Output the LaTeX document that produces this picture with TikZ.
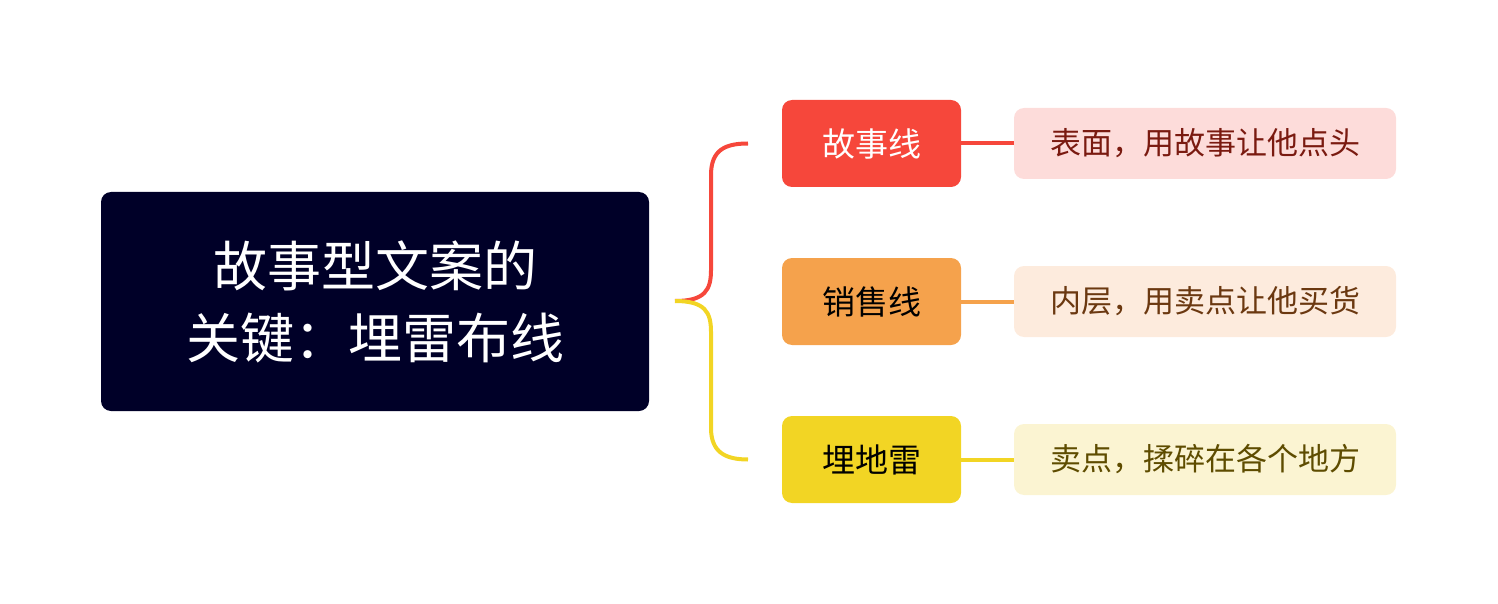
\documentclass[tikz,border=0pt]{standalone}
\usepackage{fontspec}
\newfontfamily\cjk{Noto Sans CJK SC}
\definecolor{rootc}{HTML}{000028}
\definecolor{redc}{HTML}{F6473B}
\definecolor{orac}{HTML}{F5A24C}
\definecolor{yelc}{HTML}{F2D524}
\definecolor{redl}{HTML}{FDDCDA}
\definecolor{oral}{HTML}{FDEBDD}
\definecolor{yell}{HTML}{FBF4D2}
\definecolor{redt}{HTML}{7A1A10}
\definecolor{orat}{HTML}{6B3810}
\definecolor{yelt}{HTML}{5E4C00}
\begin{document}
\begin{tikzpicture}[x=1pt,y=-1pt,
  box/.style={rounded corners=10pt,inner sep=0pt,font=\cjk},
  br/.style={box,minimum width=179pt,minimum height=87pt,font=\cjk\fontsize{33}{36}\selectfont},
  lf/.style={box,minimum width=382pt,minimum height=71pt,font=\cjk\fontsize{31}{34}\selectfont},
  con/.style={line width=4pt}]
\useasboundingbox (0,0) rectangle (1498,604);
\node[box,fill=rootc,text=white,minimum width=548pt,minimum height=219pt,align=center,font=\cjk\fontsize{54}{72}\selectfont] (root) at (375,301.5) {故事型文案的\\关键：埋雷布线};
\node[br,fill=redc,text=white] (b1) at (871.5,143.5) {故事线};
\node[br,fill=orac,text=black] (b2) at (871.5,301.5) {销售线};
\node[br,fill=yelc,text=black] (b3) at (871.5,459.5) {埋地雷};
\node[lf,fill=redl,text=redt] (l1) at (1205,143.5) {表面，用故事让他点头};
\node[lf,fill=oral,text=orat] (l2) at (1205,301.5) {内层，用卖点让他买货};
\node[lf,fill=yell,text=yelt] (l3) at (1205,459.5) {卖点，揉碎在各个地方};
\coordinate (s) at (675,301);
\coordinate (e1) at (748,143.5);
\coordinate (e3) at (748,459.5);
\draw[con,redc] (s) .. controls (705,301) and (711,290) .. (711,270) -- (711,175) .. controls (711,150) and (725,143.5) .. (e1);
\draw[con,yelc] (s) .. controls (705,301) and (711,312) .. (711,332) -- (711,428) .. controls (711,452) and (725,459.5) .. (e3);
\draw[con,redc] (b1.east) -- (l1.west);
\draw[con,orac] (b2.east) -- (l2.west);
\draw[con,yelc] (b3.east) -- (l3.west);
\end{tikzpicture}
\end{document}
